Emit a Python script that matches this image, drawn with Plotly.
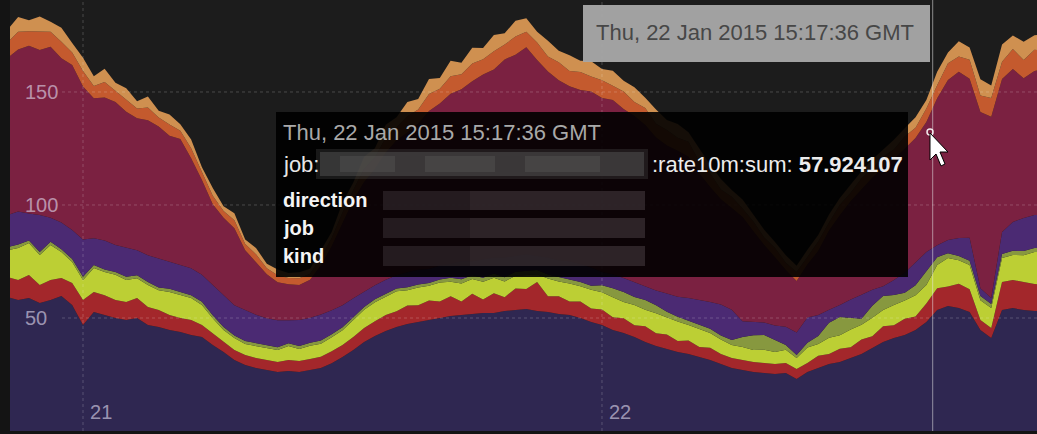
import pandas as pd
import plotly.graph_objects as go

# ---- data (stacked layer thicknesses) ----
times = pd.date_range("2015-01-20 20:30", periods=97, freq="30min")

navy = [59.3,58.0,58.8,56.6,58.0,59.7,55.8,46.9,52.7,51.3,50.0,49.1,50.0,46.9,46.0,44.7,43.8,42.5,41.6,38.0,
        35.0,31.4,29.2,27.9,27.0,26.1,26.5,26.1,27.0,27.9,30.0,32.7,35.8,39.4,42.0,44.2,46.0,47.3,48.2,49.1,
        50.0,50.9,51.3,51.8,52.2,52.2,53.1,53.5,54.0,53.1,52.7,51.8,51.3,50.0,48.2,46.9,44.7,43.4,41.6,39.4,
        37.6,36.3,35.0,34.1,32.7,31.4,29.6,27.9,27.0,26.1,25.7,25.2,25.7,23.0,26.1,27.9,29.6,30.5,32.3,34.1,
        36.7,39.4,41.2,42.5,44.7,48.2,53.5,55.3,54.4,52.7,44.7,41.2,53.5,54.4,53.5,53.1,53.1]
red = [8.8,8.8,10.2,8.0,8.8,8.0,9.7,11.1,8.8,8.8,8.0,8.0,8.8,8.0,7.5,6.6,6.2,6.6,5.3,5.3,
       4.4,4.4,4.4,4.4,4.4,4.4,4.9,4.9,4.9,4.9,5.3,5.3,5.8,6.2,6.6,7.1,7.0,8.2,7.4,8.6,
       7.3,8.7,6.0,8.9,6.0,8.8,6.1,9.6,8.8,12.8,6.9,7.8,6.0,7.3,6.0,6.9,5.6,6.5,5.2,6.9,
       5.6,6.4,4.8,5.9,4.5,5.4,4.5,4.4,4.4,4.4,4.4,4.4,4.4,4.4,4.0,5.4,4.5,5.9,4.8,6.4,
       5.2,6.9,5.6,7.2,6.0,8.2,9.7,8.6,10.8,10.0,4.4,4.4,12.4,12.4,12.4,11.9,11.5]
yellow = [11.9,14.2,14.2,13.3,15.5,11.5,9.3,8.8,10.6,10.2,11.1,9.7,8.8,9.7,8.8,10.2,10.2,9.7,8.8,6.6,
          5.3,5.3,4.9,5.3,5.3,5.3,6.2,5.3,5.8,5.8,6.2,6.6,7.5,8.0,8.4,8.0,8.8,6.8,7.9,6.6,
          8.4,6.4,8.0,6.5,7.8,6.8,7.0,5.6,6.2,3.5,7.9,6.6,8.0,6.8,8.3,7.6,8.9,7.2,9.0,7.3,
          8.9,7.4,8.6,6.9,8.0,6.6,6.4,5.8,5.8,5.3,5.8,5.3,5.8,4.9,6.8,5.2,7.2,6.0,7.8,6.5,
          8.2,7.2,9.0,8.0,9.4,8.2,10.2,12.6,10.4,10.8,8.8,8.8,10.6,11.1,11.9,14.2,14.6]
olive = [1.3,1.5,1.1,1.3,1.4,1.2,1.3,1.5,1.3,1.2,1.3,1.4,1.3,1.3,1.2,1.4,1.3,1.3,1.5,1.3,
         1.3,1.2,1.3,1.4,1.3,1.3,1.2,1.3,1.3,1.4,1.3,1.3,1.2,1.3,1.3,1.4,1.3,1.3,1.3,1.2,
         1.3,1.8,1.8,1.7,1.8,1.9,1.8,1.8,1.7,1.8,1.8,1.9,1.8,1.8,1.8,3.1,4.0,4.4,3.5,4.4,
         3.5,2.7,2.2,1.8,1.8,1.8,1.8,2.2,4.4,6.6,6.6,5.3,2.2,1.3,2.2,3.5,6.6,8.0,5.3,2.7,
         5.3,6.2,4.4,3.5,4.4,6.2,3.5,2.2,1.8,1.8,1.8,1.8,1.8,1.8,1.8,1.8,1.8]
purple = [14.2,14.6,11.9,16.4,10.6,11.9,12.8,16.4,11.9,12.8,11.9,12.8,11.1,11.9,12.8,11.9,11.9,11.9,11.9,13.3,
          14.2,13.3,13.7,12.4,11.9,11.9,10.2,11.5,11.1,11.5,10.6,9.7,8.4,6.6,6.2,6.2,5.8,6.6,6.6,6.2,
          6.2,6.2,8.0,6.2,8.0,7.1,8.8,7.1,7.5,6.2,7.5,7.5,8.0,8.0,8.0,5.8,6.2,6.2,6.6,6.2,
          6.6,8.0,8.8,10.2,11.1,11.9,13.7,13.3,7.0,6.0,5.5,6.5,8.0,10.0,11.1,9.3,5.8,5.3,8.0,10.6,
          7.1,4.4,6.6,8.8,10.2,8.4,5.3,5.8,8.0,10.2,3.5,2.7,9.7,12.8,14.6,14.6,14.6]
maroon = [69.5,71.7,74.3,73.0,75.7,72.6,73.0,67.7,61.9,63.3,63.3,60.2,58.4,59.7,58.4,55.8,55.8,48.7,42.0,35.8,
          34.1,34.1,26.5,23.5,19.5,16.8,15.9,15.5,16.8,21.7,28.3,36.3,43.4,48.7,51.3,56.2,59.7,61.9,64.6,69.9,
          71.7,75.2,76.1,79.6,81.9,83.2,87.6,88.9,91.6,86.7,82.3,79.6,77.4,77.0,77.9,77.0,77.0,74.8,73.5,71.2,
          67.7,65.5,64.6,62.4,55.8,50.9,46.5,45.1,46.1,40.0,34.3,30.2,25.1,22.8,23.5,28.3,35.0,39.8,43.4,46.5,
          49.6,52.2,53.5,54.9,54.9,57.5,65.0,70.8,73.5,70.4,77.9,80.1,67.7,67.7,61.9,63.7,64.6]
orange = [6.8,7.9,6.4,8.2,6.6,7.3,5.6,6.9,5.4,6.8,4.9,5.6,4.3,5.6,4.0,5.0,3.7,4.4,3.2,3.8,
          3.0,3.6,2.7,3.3,2.6,3.1,2.8,3.0,2.7,3.6,3.7,4.8,4.5,5.9,5.3,6.6,5.8,7.2,6.3,7.5,
          6.5,7.8,6.7,7.9,6.8,8.0,6.6,8.0,6.8,7.8,6.6,8.0,6.8,7.9,6.6,7.9,6.4,7.7,6.2,7.5,
          6.0,6.9,5.8,6.7,5.2,6.0,4.4,4.9,3.7,4.3,3.3,4.1,3.2,3.9,3.3,4.3,3.5,4.6,3.8,4.9,
          4.0,5.0,4.2,5.4,4.6,6.0,5.8,7.4,6.8,8.4,7.3,8.3,7.7,8.8,8.1,9.4,8.0]
tan = [5.6,6.5,4.8,6.6,4.5,6.2,4.2,5.8,4.4,5.9,3.6,4.8,3.2,4.9,3.0,4.4,2.8,3.9,2.4,3.4,
       2.1,3.1,2.0,2.8,2.0,2.6,2.2,2.6,2.2,3.2,2.6,4.3,3.3,5.2,4.0,5.8,4.4,6.3,4.6,6.6,
       4.8,6.8,5.0,7.0,5.0,7.2,5.0,7.0,6.0,4.8,7.0,5.0,7.0,5.0,6.8,5.0,6.6,4.8,6.5,4.6,
       6.3,4.4,6.0,4.2,5.6,3.8,4.6,3.0,4.0,2.8,3.5,2.6,3.4,2.8,3.2,2.8,3.6,3.0,3.8,3.2,
       4.0,3.2,4.4,3.6,4.6,3.8,6.0,4.8,6.8,5.4,7.2,5.6,7.6,6.0,8.0,6.4,7.2]

layers = [
    ("navy", navy, "#2f2751"),
    ("red", red, "#a3272b"),
    ("yellow", yellow, "#bccf34"),
    ("olive", olive, "#87983f"),
    ("purple", purple, "#4b2a73"),
    ("maroon", maroon, "#7b2141"),
    ("orange", orange, "#c45a2e"),
    ("tan", tan, "#cf9050"),
]
for name, vals, _ in layers:
    assert len(vals) == len(times), (name, len(vals))

x_ticks = ["2015-01-21", "2015-01-22"]
x_ticktext = ["21", "22"]
y_ticks = [50, 100, 150]
hover_time = "2015-01-22 15:17:36"

fig = go.Figure()
for name, vals, col in layers:
    fig.add_trace(go.Scatter(x=times, y=vals, name=name, mode="lines", stackgroup="s",
                             line=dict(width=0, color=col), fillcolor=col, hoverinfo="skip"))

W, H = 1037, 434
L, T, B = 10, 0, 3
PW, PH = W - L, H - T - B
def px(x):
    return (x - L) / PW
def py(y):
    return (T + PH - y) / PH

shapes = []
grid = dict(color="rgba(255,255,255,0.2)", width=1, dash="dot")
for yv in y_ticks:
    shapes.append(dict(type="line", xref="paper", yref="y", x0=px(62), x1=1, y0=yv, y1=yv, line=grid, layer="above"))
for xv in x_ticks:
    shapes.append(dict(type="line", xref="x", yref="paper", x0=xv, x1=xv, y0=0, y1=1, line=grid, layer="above"))
# hover line
shapes.append(dict(type="line", xref="x", yref="paper", x0=hover_time, x1=hover_time, y0=0, y1=1,
                   line=dict(color="rgba(230,230,230,0.55)", width=1), layer="above"))
# top gray time box
shapes.append(dict(type="rect", xref="paper", yref="paper", x0=px(583), x1=px(930), y0=py(62), y1=py(5),
                   fillcolor="rgba(166,166,166,0.97)", line=dict(width=0), layer="above"))
# black detail box
shapes.append(dict(type="rect", xref="paper", yref="paper", x0=px(276), x1=px(908), y0=py(277), y1=py(112),
                   fillcolor="rgba(0,0,0,0.9)", line=dict(width=0), layer="above"))
# blurred areas
shapes.append(dict(type="rect", xref="paper", yref="paper", x0=px(316), x1=px(648), y0=py(179), y1=py(149),
                   fillcolor="rgba(80,80,80,0.3)", line=dict(width=0), layer="above"))
shapes.append(dict(type="rect", xref="paper", yref="paper", x0=px(320), x1=px(644), y0=py(176), y1=py(152),
                   fillcolor="rgba(90,90,90,0.45)", line=dict(width=0), layer="above"))
for bx0, bx1 in [(340, 395), (425, 495), (525, 600)]:
    shapes.append(dict(type="rect", xref="paper", yref="paper", x0=px(bx0), x1=px(bx1), y0=py(172), y1=py(156),
                       fillcolor="rgba(130,130,130,0.18)", line=dict(width=0), layer="above"))
for y0, y1 in [(191, 210), (218, 238), (246, 266)]:
    shapes.append(dict(type="rect", xref="paper", yref="paper", x0=px(383), x1=px(645), y0=py(y1), y1=py(y0),
                       fillcolor="rgba(60,50,54,0.7)", line=dict(width=0), layer="above"))
    shapes.append(dict(type="rect", xref="paper", yref="paper", x0=px(383), x1=px(470), y0=py(y1), y1=py(y0),
                       fillcolor="rgba(20,15,18,0.35)", line=dict(width=0), layer="above"))
# hover point marker
shapes.append(dict(type="circle", xref="paper", yref="paper", x0=px(927), x1=px(933), y0=py(135), y1=py(129),
                   line=dict(color="rgba(255,255,255,0.9)", width=1.5), layer="above"))
# mouse cursor
cur = [(930, 133), (930, 160), (936, 154), (941, 166), (945, 164), (940, 152), (948, 152)]
path = "M " + " L ".join(f"{px(a):.5f},{py(b):.5f}" for a, b in cur) + " Z"
shapes.append(dict(type="path", xref="paper", yref="paper", path=path, fillcolor="white",
                   line=dict(color="black", width=1), layer="above"))

FONT = "Liberation Sans"
ann = []
def add(text, x, y, size, color, anchor="left"):
    ann.append(dict(text=text, xref="paper", yref="paper", x=px(x), y=py(y), xanchor=anchor, yanchor="middle",
                    showarrow=False, font=dict(family=FONT, size=size, color=color)))
add("Thu, 22 Jan 2015 15:17:36 GMT", 594, 33, 22, "#474747")
add("Thu, 22 Jan 2015 15:17:36 GMT", 281, 132, 22, "#a9a9a9")
add("job:", 281, 164, 22, "#e6e6e6")
add(":rate10m:sum: <b>57.924107</b>", 905, 164, 22, "#ececec", anchor="right")
add("<b>direction</b>", 281, 200, 20, "#f4f4f4")
add("<b>job</b>", 281, 228, 20, "#f4f4f4")
add("<b>kind</b>", 281, 256, 20, "#f4f4f4")

tickcol = "rgba(225,220,240,0.62)"
fig.update_layout(
    width=W, height=H, margin=dict(l=L, r=0, t=T, b=B),
    paper_bgcolor="#141414", plot_bgcolor="#1c1c1c",
    showlegend=False, shapes=shapes, annotations=ann,
    xaxis=dict(type="date", range=["2015-01-20 20:37:26", "2015-01-22 20:07:00"],
               tickvals=x_ticks, ticktext=x_ticktext, ticklabelposition="inside right",
               ticks="", showgrid=False, zeroline=False, showline=False, ticklabelstandoff=2,
               ticklabelshift=7,
               tickfont=dict(family=FONT, size=20, color=tickcol)),
    yaxis=dict(range=[0, 190.7], tickvals=y_ticks, ticklabelposition="inside", ticks="",
               showgrid=False, zeroline=False, showline=False, ticklabelstandoff=12,
               tickfont=dict(family=FONT, size=20, color=tickcol)),
    hovermode=False,
)
fig.write_html("out.html", config={"displayModeBar": False},
               post_script="document.body.style.margin='0';document.body.style.overflow='hidden';")
